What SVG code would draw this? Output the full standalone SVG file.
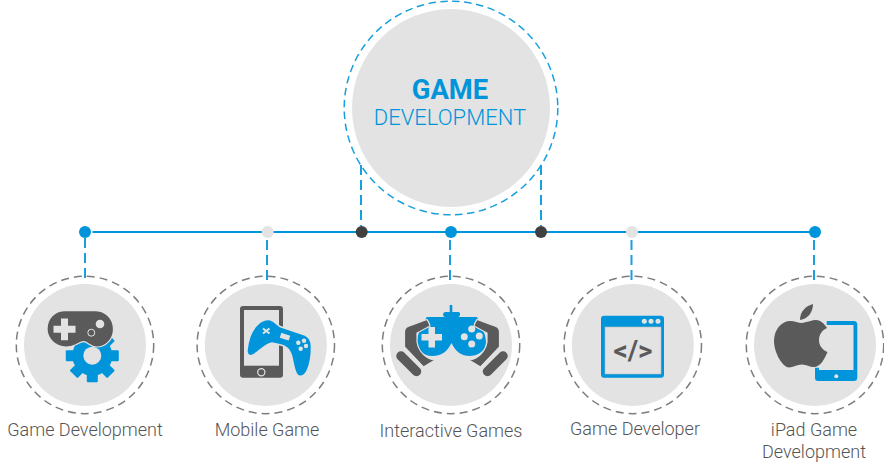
<svg xmlns="http://www.w3.org/2000/svg" width="884" height="465" viewBox="0 0 884 465">
<style>
.bg{fill:#e3e3e3}
.ring{fill:none;stroke:#7d7d7d;stroke-width:1.5;stroke-dasharray:8 5}
.ringb{fill:none;stroke:#1a9fde;stroke-width:1.5;stroke-dasharray:7.5 4.5}
.dash{fill:none;stroke:#1a9fde;stroke-width:2;stroke-dasharray:10 5}
.line{fill:none;stroke:#0095da;stroke-width:2}
.blue{fill:#0095da}
.dark{fill:#5a5a5a}
.lt{fill:#e3e3e3}
.cut{stroke:#e3e3e3;stroke-width:1.2}
.lbl{font-family:Roboto,"Liberation Sans",sans-serif;font-size:18px;fill:#555;text-anchor:middle;font-weight:300}
</style>
<defs><rect id="tooth" x="-5.5" y="-26.5" width="11" height="12" fill="#0095da" rx="1"/></defs>
<g id="connectors">
<path class="line" d="M92.500 232H815"/>
<path class="dash" d="M361 165V226"/>
<path class="dash" d="M541 165V226"/>
<path class="dash" d="M85 238V283"/>
<path class="dash" d="M267 240V285"/>
<path class="dash" d="M450 240V285"/>
<path class="dash" d="M631.500 240V285"/>
<path class="dash" d="M814 240V285"/>
<circle cx="85" cy="232" r="6" fill="#0095da"/>
<circle cx="267.700" cy="232" r="6" fill="#e3e3e3"/>
<circle cx="361.700" cy="232" r="6" fill="#404040"/>
<circle cx="451" cy="232" r="6" fill="#0095da"/>
<circle cx="541" cy="232" r="6" fill="#404040"/>
<circle cx="632" cy="232" r="6" fill="#e3e3e3"/>
<circle cx="815" cy="232" r="6" fill="#0095da"/>
</g>
<g id="center">
<circle class="ringb" cx="451" cy="108" r="106.800"/>
<circle class="bg" cx="451" cy="108" r="99"/>
<text x="450" y="98.500" text-anchor="middle" font-family="Roboto,'Liberation Sans',sans-serif" font-size="27.400" font-weight="700" fill="#0095da">GAME</text>
<text x="450" y="125" text-anchor="middle" font-family="Roboto,'Liberation Sans',sans-serif" font-size="22" font-weight="300" fill="#0095da">DEVELOPMENT</text>
</g>
<g id="node-game-development">
<circle class="ring" cx="85" cy="345" r="68.700"/>
<circle class="bg" cx="85" cy="345" r="61"/>
<g transform="translate(92.300 355.700)">
<circle r="20" fill="#0095da"/>
<use href="#tooth"/><use href="#tooth" transform="rotate(45)"/><use href="#tooth" transform="rotate(90)"/><use href="#tooth" transform="rotate(135)"/><use href="#tooth" transform="rotate(180)"/><use href="#tooth" transform="rotate(225)"/><use href="#tooth" transform="rotate(270)"/><use href="#tooth" transform="rotate(315)"/>
<circle r="9" fill="#e3e3e3"/>
</g>
<path class="dark cut" d="M65 310.700H95C106 310.700 113.500 319 113.500 329C113.500 340 105 347 97 347C90 347 88 341.700 83.500 341.700C79 341.700 75 347 66 347C55 347 47 338 47 329C47 319 54 310.700 65 310.700Z"/>
<path class="lt" d="M61 318.500h7v7.300h7.500v7h-7.500v7.500h-7v-7.500h-7.500v-7h7.500z"/>
<circle class="lt" cx="100" cy="324" r="4.300"/>
<circle cx="91.300" cy="332.700" r="3.500" fill="none" stroke="#e3e3e3" stroke-width="1"/>
<text class="lbl" x="85" y="435.700">Game Development</text>
</g>
<g id="node-mobile-game">
<circle class="ring" cx="265.800" cy="345" r="68.700"/>
<circle class="bg" cx="265.800" cy="345" r="61"/>
<rect class="dark" x="240" y="306" width="43" height="71.700" rx="3"/>
<rect class="lt" x="244" y="310" width="35" height="55.700"/>
<circle cx="261.300" cy="372.300" r="3.600" fill="none" stroke="#e3e3e3" stroke-width="1.200"/>
<path class="blue" stroke="#e3e3e3" stroke-width="1.500" d="M247 350C248 340 252 330 257 325C261 320 268 318 273 321L280 326.500L305 335C309.500 337 311.500 341 311.500 347C311.500 356 310 365 307 371C304 377 298 378 296 373C293 366 293 360 291 354C289 349 285 346 281 345L272 343C265 344 259 352 253 355C249 357 246.500 354 247 350Z"/>
<path d="M263 328.500L269.500 333.500M269.500 328.500L263 333.500" stroke="#e3e3e3" stroke-width="2" fill="none"/>
<rect class="lt" x="-4.700" y="-2.500" width="9.400" height="5" transform="translate(285 336.700) rotate(18)"/>
<circle class="lt" cx="298.300" cy="342.700" r="2.200"/><circle class="lt" cx="304" cy="340.700" r="2.200"/><circle class="lt" cx="306" cy="346" r="2.200"/><circle class="lt" cx="300.700" cy="348.700" r="2.200"/>
<text class="lbl" x="267" y="435.700">Mobile Game</text>
</g>
<g id="node-interactive-games">
<circle class="ring" cx="451" cy="345" r="68.700"/>
<circle class="bg" cx="451" cy="345" r="61"/>
<path class="blue" d="M449.700 305h2.600v7h6.700q1.500 1 1 3t-2 2h-13q-2-.5-2-2.500t2-2.500h4.700z"/>
<path class="blue" d="M426.700 317H477C480 325 486 333 486 342C486 352 476 356 470 356C460 356 455 350 451.500 343C448 350 443 356 432 356C424 356 417 350 417 342C417 333 423 325 426.700 317Z"/>
<path class="lt" d="M428.500 327h6.500v7h7v6.500h-7v7h-6.500v-7h-7v-6.500h7z"/>
<circle class="lt" cx="464.300" cy="336.700" r="3.500"/><circle class="lt" cx="471.700" cy="344" r="3.500"/><circle class="lt" cx="471.700" cy="329" r="3.500"/><circle class="lt" cx="479.300" cy="336" r="3.500"/>
<g id="hand-left">
<path class="dark cut" d="M427 319.500L408 326.500Q404.500 328 404.500 332V347L423.500 367L435 360C427 359.500 418.500 352 417 342V333L430 326C429.500 323 428 321 427 319.500Z"/>
<path d="M401 356L416.500 371.500" stroke="#5a5a5a" stroke-width="9.500" stroke-linecap="round" fill="none"/>
</g>
<g transform="matrix(-1 0 0 1 904 0)">
<path class="dark cut" d="M427 319.500L408 326.500Q404.500 328 404.500 332V347L423.500 367L435 360C427 359.500 418.500 352 417 342V333L430 326C429.500 323 428 321 427 319.500Z"/>
<path d="M401 356L416.500 371.500" stroke="#5a5a5a" stroke-width="9.500" stroke-linecap="round" fill="none"/>
</g>
<text class="lbl" x="451" y="437">Interactive Games</text>
</g>
<g id="node-game-developer">
<circle class="ring" cx="632.800" cy="345" r="68.700"/>
<circle class="bg" cx="632.800" cy="345" r="61"/>
<rect class="blue" x="601" y="315.700" width="63" height="62" rx="3"/>
<rect class="lt" x="605" y="327" width="56" height="47" stroke="#bbb" stroke-width=".6"/>
<circle class="lt" cx="644.300" cy="321.300" r="2.500"/><circle class="lt" cx="651" cy="321.300" r="2.500"/><circle class="lt" cx="658" cy="321.300" r="2.500"/>
<text x="633" y="360" text-anchor="middle" font-family="Roboto,sans-serif" font-size="28" font-weight="700" fill="#5a5a5a">&lt;/&gt;</text>
<text class="lbl" x="635" y="435">Game Developer</text>
</g>
<g id="node-ipad-game-development">
<circle class="ring" cx="815" cy="345" r="68.700"/>
<circle class="bg" cx="815" cy="345" r="61"/>
<path class="blue" d="M826.700 321H854C856 321 857.300 322.300 857.300 324.500V377.500C857.300 380 856 381 854 381H818C816 381 815 380 815 378V367.700H819V370H853.500V325H826.700Z"/>
<circle class="lt" cx="836.300" cy="376.300" r="2"/>
<path class="dark" d="M802 323C808 322 812 320 816 320C820 320 824 323 827 328C822 330 819 335 819 340C819 346 823 350 827.500 352C825 358 821 366 815 367C810 367.500 807 364.500 802 364.500C797 364.500 793 367.500 789 367.500C782 367 774 352 774 341C774 329 782 321 790 321C795 321 798 323 802 323Z"/>
<path class="dark" d="M800 320C800 311 806 306 813 304C813 312 808 319 800 320Z"/>
<text class="lbl" x="814" y="436">iPad Game</text>
<text class="lbl" x="814" y="458">Development</text>
</g>
</svg>
